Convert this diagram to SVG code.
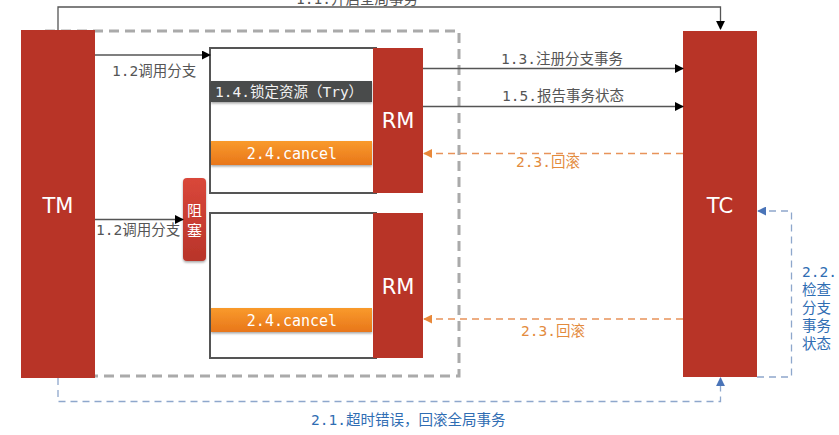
<svg xmlns="http://www.w3.org/2000/svg" width="839" height="435" viewBox="0 0 839 435">
<style>
.node{fill:#b83427}
.ntxt{font-family:"DejaVu Sans",sans-serif;font-size:21px;fill:#fff;text-anchor:middle}
.lbl{font-family:"DejaVu Sans Mono","Noto Sans CJK SC",monospace;font-size:14.5px}
.gray{fill:#555}
.orange{fill:#e38b3d}
.blue{fill:#2f6db3}
.gline{stroke:#555;stroke-width:1.3;fill:none}
.oline{stroke:#e8935a;stroke-width:1.3;fill:none;stroke-dasharray:7,5}
.bline{stroke:#8ea7cc;stroke-width:1.3;fill:none;stroke-dasharray:7,5}
.box{fill:#fff;stroke:#555;stroke-width:2}
</style>
<defs>
<marker id="ab" viewBox="0 0 10 10" refX="9" refY="5" markerWidth="9" markerHeight="9" markerUnits="userSpaceOnUse" orient="auto"><path d="M0,0L10,5L0,10z" fill="#000"/></marker>
<marker id="ao" viewBox="0 0 10 10" refX="9" refY="5" markerWidth="9" markerHeight="9" markerUnits="userSpaceOnUse" orient="auto"><path d="M0,0L10,5L0,10z" fill="#e8883a"/></marker>
<marker id="abl" viewBox="0 0 10 10" refX="9" refY="5" markerWidth="9" markerHeight="9" markerUnits="userSpaceOnUse" orient="auto"><path d="M0,0L10,5L0,10z" fill="#4a74b8"/></marker>
<linearGradient id="og" x1="0" y1="0" x2="0" y2="1"><stop offset="0" stop-color="#f99a2c"/><stop offset="1" stop-color="#e8761a"/></linearGradient>
<linearGradient id="rg" x1="0" y1="0" x2="0" y2="1"><stop offset="0" stop-color="#d9473a"/><stop offset="1" stop-color="#b8342a"/></linearGradient>
<filter id="sh" x="-10%" y="-20%" width="120%" height="160%"><feDropShadow dx="0" dy="1.5" stdDeviation="1.2" flood-color="#000" flood-opacity="0.35"/></filter>
</defs>

<rect x="45" y="31" width="414" height="345" fill="none" stroke="#aaa" stroke-width="3" stroke-dasharray="10,6"/>

<g id="box1"><rect class="box" x="210" y="48" width="166" height="145"/></g>
<g id="box2"><rect class="box" x="210" y="213" width="166" height="145"/></g>

<g id="TM"><rect class="node" x="21" y="30" width="74" height="348"/><text class="ntxt" x="58" y="213">TM</text></g>
<g id="TC"><rect class="node" x="683" y="31" width="74" height="346"/><text class="ntxt" x="720" y="213">TC</text></g>
<g id="RM1"><rect class="node" x="373" y="48" width="50" height="145"/><text class="ntxt" x="398" y="128">RM</text></g>
<g id="RM2"><rect class="node" x="373" y="213" width="50" height="145"/><text class="ntxt" x="398" y="294">RM</text></g>

<g id="try"><rect x="211" y="81" width="161" height="21" fill="#4a4b4b" filter="url(#sh)"/><text class="lbl" x="215" y="97" fill="#f2f2f2">1.4.锁定资源（Try）</text></g>
<g id="cancel1"><rect x="211" y="141" width="161" height="24" fill="url(#og)" filter="url(#sh)"/><text class="lbl" x="292" y="158.5" fill="#fff" text-anchor="middle" style="font-size:15px">2.4.cancel</text></g>
<g id="cancel2"><rect x="211" y="308" width="161" height="24" fill="url(#og)" filter="url(#sh)"/><text class="lbl" x="292" y="325.5" fill="#fff" text-anchor="middle" style="font-size:15px">2.4.cancel</text></g>
<g id="block"><rect x="183" y="178" width="23" height="83" rx="4" fill="url(#rg)" filter="url(#sh)"/><text font-family="Noto Sans CJK SC,sans-serif" font-size="15" fill="#fff" text-anchor="middle"><tspan x="194.5" y="216">阻</tspan><tspan x="194.5" y="236">塞</tspan></text></g>

<g id="connectors">
<path class="gline" d="M58,30V7H720.5V29" marker-end="url(#ab)"/>
<path class="gline" d="M95,55H210" marker-end="url(#ab)"/>
<path class="gline" d="M95,219.5H183" marker-end="url(#ab)"/>
<path class="gline" d="M423,68.5H683" marker-end="url(#ab)"/>
<path class="gline" d="M423,106.5H683" stroke="#222" marker-end="url(#ab)"/>
<path class="oline" d="M683,153.5H424" marker-end="url(#ao)"/>
<path class="oline" d="M683,319H424" marker-end="url(#ao)"/>
<path class="bline" d="M757,377H791.5V211H758" marker-end="url(#abl)"/>
<path class="bline" d="M58,378V401.5H720.5V378" marker-end="url(#abl)"/>
</g>

<text class="lbl gray" x="296" y="4">1.1.开启全局事务</text>
<text class="lbl gray" x="112" y="76">1.2调用分支</text>
<text class="lbl gray" x="96" y="235">1.2调用分支</text>
<text class="lbl gray" x="562" y="64" text-anchor="middle">1.3.注册分支事务</text>
<text class="lbl gray" x="563" y="101" text-anchor="middle">1.5.报告事务状态</text>
<text class="lbl orange" x="516" y="167">2.3.回滚</text>
<text class="lbl orange" x="521" y="336">2.3.回滚</text>
<text class="lbl blue" x="311" y="425">2.1.超时错误，回滚全局事务</text>
<text class="lbl blue" x="802" y="277">2.2.</text>
<text class="lbl blue" x="802" y="295">检查</text>
<text class="lbl blue" x="802" y="313">分支</text>
<text class="lbl blue" x="802" y="331">事务</text>
<text class="lbl blue" x="802" y="349">状态</text>
</svg>
